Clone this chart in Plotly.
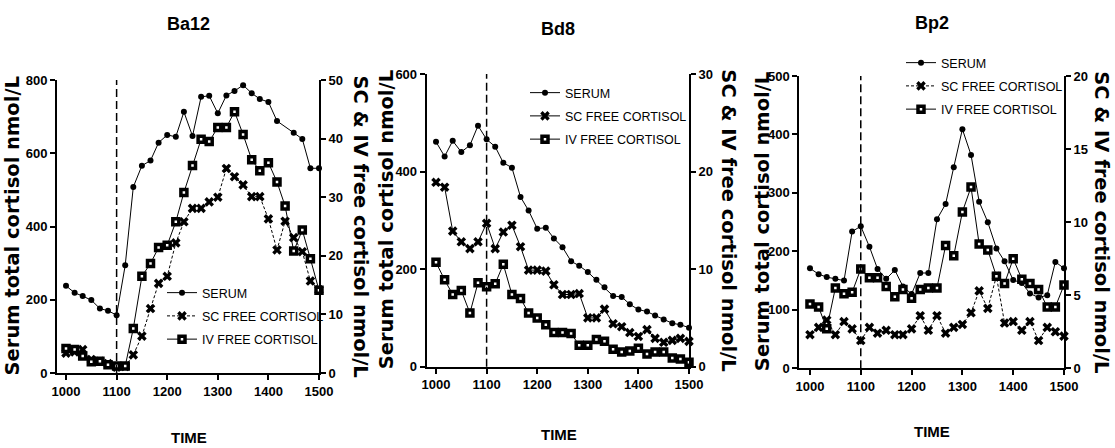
import plotly.graph_objects as go

# Sampling times (clock time, every 10 minutes from 10:00 to 15:00)
TIME = [1000, 1017, 1033, 1050, 1067, 1083, 1100, 1117, 1133, 1150, 1167,
        1183, 1200, 1217, 1233, 1250, 1267, 1283, 1300, 1317, 1333, 1350,
        1367, 1383, 1400, 1417, 1433, 1450, 1467, 1483, 1500]
X_TICKS = [1000, 1100, 1200, 1300, 1400, 1500]
INJECTION_TIME = 1100

# Ba12
BA12_SERUM = [238, 219, 210, 199, 176, 170, 158, 294, 508, 566, 580, 629, 650,
              645, 713, 647, 754, 757, 709, 758, 770, 786, 764, 748, 740, 688,
              None, 656, 639, 559, 559]
BA12_SC = [3.4, 3.6, 4.0, 2.3, 2.0, 1.6, 1.0, 1.1, 3.1, 6.3, 11.0, 15.3, 16.5,
           22.2, 25.8, 28.1, 28.1, 29.2, 30.0, 34.9, 33.5, 32.1, 30.1, 30.1,
           26.3, 21.0, 25.9, 23.1, 20.7, 15.7, 14.2]
BA12_IV = [4.2, 4.0, 2.9, 1.9, 2.0, 1.4, 1.2, 1.2, 7.6, 16.5, 18.7, 21.4, 21.8,
           25.8, 30.8, 35.4, 39.9, 39.5, 41.9, 41.9, 44.6, 40.7, 36.4, 34.5,
           35.9, 32.6, 28.5, 20.8, 24.4, 19.5, 14.1]

# Bd8
BD8_SERUM = [461, 431, 463, 440, 454, 494, 466, 451, 418, 408, 348, 320, 283,
             285, 263, 245, 216, 207, 194, 178, 163, 145, 143, 128, 117, 113,
             105, 97, 89, 86, 80]
BD8_SC = [18.9, 18.4, 13.9, 12.8, 12.1, 12.8, 14.7, 12.1, 13.8, 14.5, 12.3, 9.9,
          9.9, 9.8, 8.4, 7.4, 7.4, 7.5, 5.0, 5.0, 5.9, 4.4, 4.1, 3.5, 3.1, 3.8,
          2.9, 2.5, 2.7, 2.9, 2.6]
BD8_IV = [10.7, 8.9, 7.4, 7.8, 5.5, 8.6, 8.2, 8.5, 10.5, 7.4, 7.0, 5.5, 5.0,
          4.3, 3.5, 3.5, 3.4, 2.2, 2.2, 2.8, 2.6, 1.8, 1.5, 1.6, 1.9, 1.3, 1.5,
          1.5, 0.9, 0.8, 0.45]

# Bp2
BP2_SERUM = [171, 161, 156, 153, 150, 234, 243, 208, 170, 153, 168, 140, 127,
             163, 163, 255, 281, 344, 409, 365, 285, 250, 205, 183, 151, 146,
             128, 121, 125, 182, 171]
BP2_SC = [2.3, 2.8, 3.3, 2.3, 3.2, 2.7, 1.9, 2.8, 2.4, 2.6, 2.3, 2.3, 2.7, 3.6,
          2.6, 3.6, 2.4, 2.8, 3.0, 3.8, 5.3, 4.1, 6.3, 3.1, 3.2, 2.6, 3.2, 1.9,
          2.8, 2.5, 2.2]
BP2_IV = [4.4, 4.2, 2.7, 5.5, 5.1, 5.2, 6.8, 6.2, 6.2, 5.6, 4.9, 5.4, 4.8, 5.4,
          5.5, 5.5, 8.4, 7.7, 10.7, 12.4, 8.5, 8.1, 6.3, 5.8, 7.5, 6.1, 5.8, 5.4,
          4.2, 4.2, 5.7]

PANEL_NAMES = ["Ba12", "Bd8", "Bp2"]
SERIES_NAMES = ["SERUM", "SC FREE CORTISOL", "IV FREE CORTISOL"]
LEFT_TITLE = "Serum total cortisol nmol/L"
RIGHT_TITLE = "SC & IV free cortisol nmol/L"
X_TITLE = "TIME"

W, H = 1115, 448
SANS = "Liberation Sans, Arial, sans-serif"
WIDE = "DejaVu Sans, Liberation Sans, Arial, sans-serif"


def px_x(p):
    return p / W


def px_y(p):
    return 1 - p / H


panels = [
    dict(name=PANEL_NAMES[0], serum=BA12_SERUM, sc=BA12_SC, iv=BA12_IV,
         sc_dash="3px,2px", left=(0, 800, 200), right=(0, 50, 10),
         box=(57, 319, 80, 373), xmin=982.2,
         title_xy=(188, 24), time_xy=(189, 437),
         ltitle_x=12, rtitle_x=360, legend_xy=(162, 278)),
    dict(name=PANEL_NAMES[1], serum=BD8_SERUM, sc=BD8_SC, iv=BD8_IV,
         sc_dash="solid", left=(0, 600, 200), right=(0, 30, 10),
         box=(426.7, 689, 74, 366.7), xmin=981.6,
         title_xy=(558, 29), time_xy=(559, 434),
         ltitle_x=386, rtitle_x=729, legend_xy=(525, 78)),
    dict(name=PANEL_NAMES[2], serum=BP2_SERUM, sc=BP2_SC, iv=BP2_IV,
         sc_dash="3px,2px", left=(0, 500, 100), right=(0, 20, 5),
         box=(799.3, 1064, 76, 368.3), xmin=979,
         title_xy=(932, 23), time_xy=(932, 431),
         ltitle_x=762, rtitle_x=1102, legend_xy=(901, 48)),
]

fig = go.Figure()
layout = dict(
    width=W, height=H, autosize=False,
    margin=dict(l=0, r=0, t=0, b=0, pad=0, autoexpand=False),
    paper_bgcolor="white", plot_bgcolor="white",
    font=dict(family=SANS, color="black"),
    annotations=[], shapes=[],
)

axis_common = dict(showline=True, linecolor="black", linewidth=2,
                   ticks="outside", ticklen=5, tickwidth=2, tickcolor="black",
                   showgrid=False, zeroline=False, fixedrange=True,
                   automargin=False,
                   tickfont=dict(family=SANS, size=13, weight="bold",
                                 color="black"))

for k, p in enumerate(panels):
    n = k + 1
    xs = "" if n == 1 else str(n)
    xname = "x" + xs
    yl_n = 2 * k + 1
    yr_n = 2 * k + 2
    yl = "y" + ("" if yl_n == 1 else str(yl_n))
    yr = "y" + str(yr_n)
    leg = "legend" + ("" if n == 1 else str(n))

    x0, x1, y0, y1 = p["box"]
    xdom = [px_x(x0), px_x(x1)]
    ydom = [px_y(y1), px_y(y0)]

    layout["xaxis" + xs] = dict(axis_common, domain=xdom, anchor=yl,
                                range=[p["xmin"], 1500], tickvals=X_TICKS)
    lo, hi, st = p["left"]
    layout["yaxis" + ("" if yl_n == 1 else str(yl_n))] = dict(
        axis_common, domain=ydom, anchor=xname, range=[lo, hi],
        tickvals=list(range(lo, hi + 1, st)))
    lo2, hi2, st2 = p["right"]
    layout["yaxis" + str(yr_n)] = dict(
        axis_common, domain=ydom, anchor=xname, overlaying=yl, side="right",
        range=[lo2, hi2], tickvals=list(range(lo2, hi2 + 1, st2)))

    fig.add_trace(go.Scatter(
        x=TIME, y=p["serum"], name=SERIES_NAMES[0], xaxis=xname, yaxis=yl,
        mode="lines+markers", connectgaps=True, cliponaxis=False, legend=leg,
        legendgroup=f"{leg}-serum",
        line=dict(color="black", width=1),
        marker=dict(symbol="circle", size=6, color="black")))
    fig.add_trace(go.Scatter(
        x=TIME, y=p["sc"], name=SERIES_NAMES[1], xaxis=xname, yaxis=yr,
        mode="lines+markers", cliponaxis=False, legend=leg,
        legendgroup=f"{leg}-sc",
        line=dict(color="black", width=1, dash=p["sc_dash"]),
        marker=dict(symbol="x", size=8.5, color="black")))
    fig.add_trace(go.Scatter(
        x=TIME, y=p["iv"], name=SERIES_NAMES[2], xaxis=xname, yaxis=yr,
        mode="lines+markers", cliponaxis=False, legend=leg,
        legendgroup=f"{leg}-iv",
        line=dict(color="black", width=1),
        marker=dict(symbol="square", size=6, color="white",
                    line=dict(color="black", width=3.5))))

    lx, ly = p["legend_xy"]
    layout[leg] = dict(x=px_x(lx), y=px_y(ly), xanchor="left", yanchor="top",
                       bgcolor="rgba(0,0,0,0)", borderwidth=0,
                       font=dict(family=SANS, size=12.5, color="black"),
                       tracegroupgap=4, itemwidth=30, groupclick="toggleitem")

    # injection time marker
    layout["shapes"].append(dict(
        type="line", xref=xname, yref=yl + " domain", x0=INJECTION_TIME,
        x1=INJECTION_TIME, y0=0, y1=1,
        line=dict(color="black", width=1.5, dash="8px,4px")))

    tx, ty = p["title_xy"]
    layout["annotations"].append(dict(
        text=p["name"], xref="paper", yref="paper", x=px_x(tx), y=px_y(ty),
        xanchor="center", yanchor="middle", showarrow=False,
        font=dict(family=SANS, size=18, weight="bold", color="black")))
    mx, my = p["time_xy"]
    layout["annotations"].append(dict(
        text=X_TITLE, xref="paper", yref="paper", x=px_x(mx), y=px_y(my),
        xanchor="center", yanchor="middle", showarrow=False,
        font=dict(family=SANS, size=15, weight="bold", color="black")))
    ymid = px_y((y0 + y1) / 2)
    layout["annotations"].append(dict(
        text=LEFT_TITLE, xref="paper", yref="paper", x=px_x(p["ltitle_x"]),
        y=ymid, xanchor="center", yanchor="middle", textangle=-90,
        showarrow=False,
        font=dict(family=WIDE, size=19.5, weight="bold", color="black")))
    layout["annotations"].append(dict(
        text=RIGHT_TITLE, xref="paper", yref="paper", x=px_x(p["rtitle_x"]),
        y=ymid, xanchor="center", yanchor="middle", textangle=90,
        showarrow=False,
        font=dict(family=WIDE, size=19.5, weight="bold", color="black")))

fig.update_layout(**layout)
fig.write_html("out.html")
